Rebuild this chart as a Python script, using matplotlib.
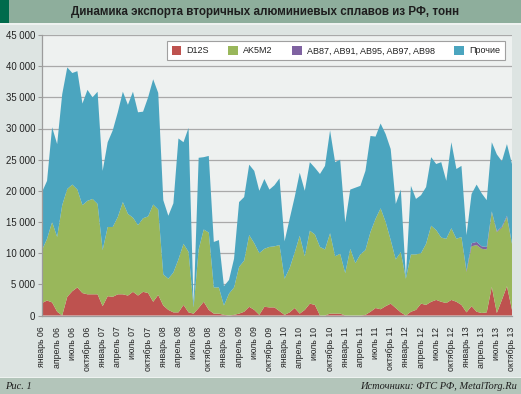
import matplotlib
matplotlib.use('Agg')
import matplotlib.pyplot as plt
from matplotlib.patches import Rectangle
from matplotlib.ticker import MultipleLocator, FuncFormatter
import numpy as np

plt.rcParams['font.family'] = ['Liberation Sans', 'DejaVu Sans']

# Monthly data, January 2006 - October 2013, thousand tonnes
d12s = [2.0, 2.4, 2.1, 0.6, 0.0, 3.0, 3.9, 4.5, 3.6, 3.4, 3.4, 3.4,
        1.5, 3.1, 3.0, 3.4, 3.4, 3.2, 3.8, 3.2, 3.8, 3.6, 2.2, 3.3,
        1.6, 0.9, 0.5, 0.5, 1.7, 0.5, 0.3, 1.2, 2.2, 0.9, 0.3, 0.3,
        0.1, 0.0, 0.1, 0.3, 0.6, 1.4, 0.9, 0.1, 1.4, 1.3, 1.3, 0.7,
        0.1, 0.5, 1.2, 0.3, 0.9, 1.9, 1.7, 0.0, 0.0, 0.3, 0.3, 0.3,
        0.0, 0.0, 0.0, 0.0, 0.1, 0.6, 1.2, 1.0, 1.5, 1.9, 1.2, 0.5,
        0.0, 0.6, 0.9, 1.9, 1.7, 2.2, 2.5, 2.2, 2.0, 2.5, 2.2, 1.7,
        0.5, 1.5, 0.6, 0.4, 0.5, 4.6, 0.4, 2.5, 4.7, 0.9]

ak5m2 = [8.5, 9.9, 12.9, 12.0, 17.7, 17.3, 17.1, 15.7, 14.1, 15.0, 15.3, 14.5,
         9.0, 11.1, 11.2, 12.4, 14.8, 13.1, 11.9, 11.3, 11.8, 12.3, 15.6, 13.7,
         5.0, 5.0, 6.4, 8.5, 9.8, 9.7, 1.0, 9.4, 11.6, 12.4, 4.2, 4.2,
         1.5, 3.5, 4.4, 7.5, 8.2, 11.5, 10.7, 9.9, 9.3, 9.7, 9.8, 10.6,
         5.8, 7.1, 8.9, 12.5, 8.6, 11.7, 11.3, 11.0, 10.6, 12.9, 9.2, 9.6,
         6.8, 10.7, 8.4, 9.8, 10.4, 12.8, 14.3, 16.2, 13.5, 10.2, 7.8, 9.7,
         5.9, 9.2, 8.9, 8.1, 9.8, 12.2, 11.2, 10.3, 10.3, 11.5, 10.1, 10.9,
         6.5, 9.6, 10.7, 10.3, 10.1, 12.0, 13.0, 11.6, 11.1, 10.6]

ab_alloys = [0.0] * 84 + [0.2, 0.5, 0.5, 0.4, 0.4, 0.1, 0.15, 0.15, 0.2, 0.0]

other = [9.3, 9.3, 15.2, 14.9, 17.8, 19.5, 17.9, 19.0, 16.3, 17.8, 16.3, 18.0,
         12.7, 13.6, 15.5, 16.8, 17.7, 17.5, 20.2, 18.1, 17.1, 19.1, 20.1, 18.7,
         11.9, 10.1, 11.1, 19.4, 16.3, 19.9, 0.3, 14.7, 11.6, 12.3, 7.3, 7.6,
         3.1, 2.2, 4.6, 10.4, 10.2, 11.3, 11.6, 10.0, 11.2, 9.2, 9.8, 10.7,
         6.0, 7.9, 8.9, 10.1, 10.5, 11.0, 10.7, 11.7, 13.4, 16.5, 15.1, 15.1,
         8.1, 9.5, 12.1, 11.0, 12.7, 15.4, 13.2, 13.6, 14.1, 14.6, 8.9, 10.0,
         0.3, 11.0, 8.9, 9.3, 9.1, 11.0, 10.6, 12.1, 9.3, 13.8, 11.2, 11.4,
         5.7, 7.9, 9.2, 8.5, 7.5, 11.1, 12.3, 10.5, 11.5, 12.8]

series_labels = ['D12S', 'AK5M2', 'AB87, AB91, AB95, AB97, AB98', 'Прочие']
series_colors = ['#be524f', '#99b75b', '#7f62a1', '#4ba5bf']

tick_labels = ['январь 06', 'апрель 06', 'июль 06', 'октябрь 06',
               'январь 07', 'апрель 07', 'июль 07', 'октябрь 07',
               'январь 08', 'апрель 08', 'июль 08', 'октябрь 08',
               'январь 09', 'апрель 09', 'июль 09', 'октябрь 09',
               'январь 10', 'апрель 10', 'июль 10', 'октябрь 10',
               'январь 11', 'апрель 11', 'июль 11', 'октябрь 11',
               'январь 12', 'апрель 12', 'июль 12', 'октябрь 12',
               'январь 13', 'апрель 13', 'июль 13', 'октябрь 13']

title = 'Динамика экспорта вторичных алюминиевых сплавов из РФ, тонн'

W, H = 521, 394
fig = plt.figure(figsize=(W / 100, H / 100), dpi=100)
fig.patch.set_facecolor('#dde4e2')

# header / footer bars
fig.patches.append(Rectangle((0, 1 - 23 / H), 1, 23 / H, transform=fig.transFigure,
                             facecolor='#8eae9c', edgecolor='none', zorder=0))
fig.patches.append(Rectangle((0, 1 - 23 / H), 9 / W, 23 / H, transform=fig.transFigure,
                             facecolor='#006b4c', edgecolor='none', zorder=0))
fig.patches.append(Rectangle((0, 1 - 24.5 / H), 1, 1.5 / H, transform=fig.transFigure,
                             facecolor='#eef2f0', edgecolor='none', zorder=0))
fig.patches.append(Rectangle((0, 0), 1, 16 / H, transform=fig.transFigure,
                             facecolor='#b3c5ba', edgecolor='none', zorder=0))
fig.patches.append(Rectangle((0, 16 / H), 1, 1.5 / H, transform=fig.transFigure,
                             facecolor='#eef2f0', edgecolor='none', zorder=0))

fig.text(265 / W, 1 - 12 / H, title, ha='center', va='center', fontsize=8.4,
         fontweight='bold', color='#1e1e1e')
fig.text(5 / W, 7.5 / H, 'Рис. 1', ha='left', va='center', fontsize=7.5,
         family=['Liberation Serif', 'DejaVu Serif'], style='italic', color='#1e1e1e')
fig.text(517 / W, 7.5 / H, 'Источники: ФТС РФ, MetalTorg.Ru', ha='right', va='center',
         fontsize=7.5, family=['Liberation Serif', 'DejaVu Serif'], style='italic',
         color='#1e1e1e')

ax = fig.add_axes([42 / W, 1 - 315.5 / H, 470 / W, 280.5 / H])
ax.set_facecolor('#eef1f0')

x = np.arange(len(d12s))
vals = [np.array(s) * 1000 for s in (d12s, ak5m2, ab_alloys, other)]
polys = ax.stackplot(x, *vals, colors=series_colors, labels=series_labels, linewidth=0)

ax.set_xlim(0, len(d12s) - 1)
ax.set_ylim(0, 45000)
ax.yaxis.set_major_locator(MultipleLocator(5000))
ax.yaxis.set_major_formatter(FuncFormatter(lambda v, p: f'{int(v):,}'.replace(',', ' ')))
ax.grid(axis='y', color='#a9a9a9', linewidth=0.9)
ax.set_axisbelow(True)
for s in ('top', 'right'):
    ax.spines[s].set_visible(False)
for s in ('left', 'bottom'):
    ax.spines[s].set_color('#9c9c9c')
    ax.spines[s].set_linewidth(0.9)

ax.set_xticks(x[::3])
ax.set_xticklabels(tick_labels, rotation=90, fontsize=6.3, color='#222222')
ax.tick_params(axis='x', length=0, pad=8)
ax.tick_params(axis='y', length=3, color='#9c9c9c', labelsize=6.9, pad=2,
               labelcolor='#222222')

leg = ax.legend(loc='upper left', bbox_to_anchor=(167 / W, 1 - 41.5 / H),
                bbox_transform=fig.transFigure, ncol=4, fontsize=6.5, frameon=True,
                fancybox=False, edgecolor='#a0a0a0', facecolor='white', framealpha=1,
                handlelength=1.05, handleheight=1.1, handletextpad=0.6,
                columnspacing=2.15, borderpad=0.5, borderaxespad=0)
leg.get_frame().set_linewidth(0.8)
for t in leg.get_texts():
    t.set_color('#222222')

fig.savefig('out.png', dpi=100, facecolor=fig.get_facecolor())
